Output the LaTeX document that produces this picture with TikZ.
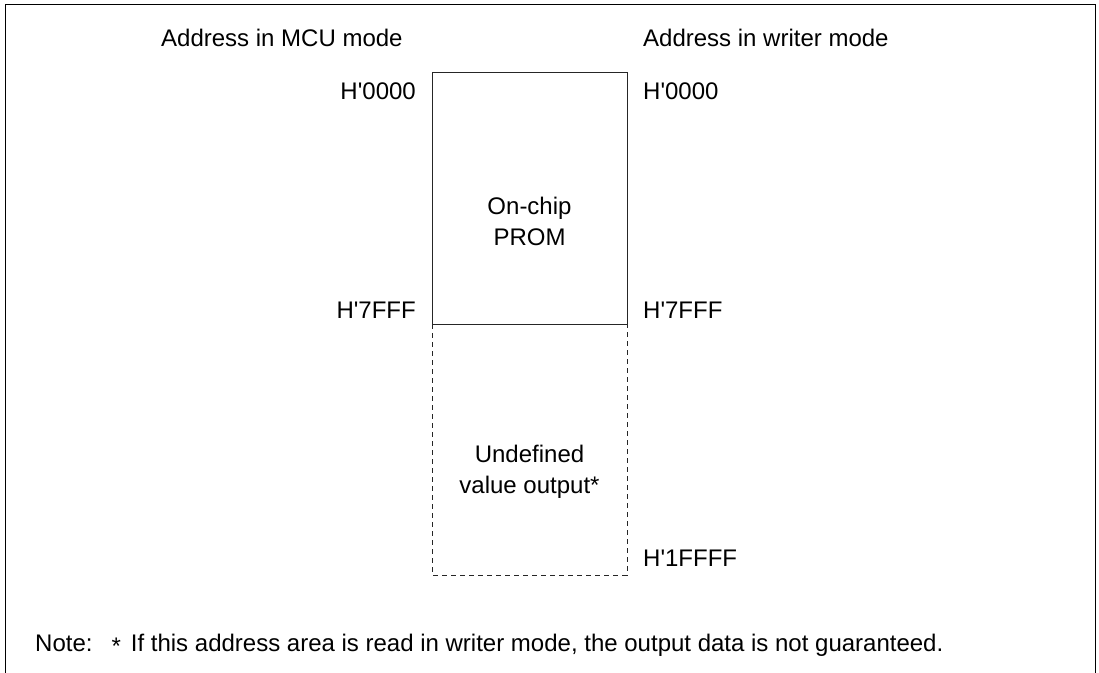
\documentclass[tikz,border=0pt]{standalone}
\usepackage{fontspec}
\setmainfont{Liberation Sans}
\newcommand{\apos}{\XeTeXglyph\XeTeXglyphindex"quotesingle"\relax}
\begin{document}
\begin{tikzpicture}[x=1bp,y=-1bp,
  lbl/.style={inner sep=0pt,font=\fontsize{24bp}{30bp}\selectfont},
  frameline/.style={line width=1bp,black},
  boxline/.style={line width=1bp,black!85},
  dashline/.style={boxline,dash pattern=on 5bp off 4bp}]
\useasboundingbox (0,0) rectangle (1099,673);
\draw[frameline] (5,674) -- (5,5) -- (1095,5) -- (1095,674);
% memory map
\coordinate (tl) at (432,73);
\coordinate (mr) at (627,324);
\coordinate (ml) at (432,324);
\coordinate (bl) at (432,575);
\coordinate (br) at (627,575);
\draw[boxline] (tl) rectangle (mr);
\draw[dashline] (ml) -- (bl) -- (br) -- (mr);
% headers
\node[lbl,anchor=base west] (hmcu) at (161,47) {Address in MCU mode};
\node[lbl,anchor=base west] (hwr) at (643,47) {Address in writer mode};
% left addresses
\node[lbl,anchor=base east] (l0) at (416,100) {H\apos0000};
\node[lbl,anchor=base east] (l7) at (416,318) {H\apos7FFF};
% right addresses
\node[lbl,anchor=base west] (r0) at (643,100) {H\apos0000};
\node[lbl,anchor=base west] (r7) at (643,318) {H\apos7FFF};
\node[lbl,anchor=base west] (r1) at (643,566) {H\apos1FFFF};
% area texts
\node[lbl,anchor=base] (on) at (529.5,215) {On-chip};
\node[lbl,anchor=base] (prom) at (529.5,245) {PROM};
\node[lbl,anchor=base] (und) at (529.5,462) {Undefined};
\node[lbl,anchor=base] (val) at (529.5,493) {value output*};
% note
\node[lbl,anchor=base west] (note) at (35,651) {Note:\hspace{19bp}\raisebox{-3.5bp}{*}\hspace{10bp}If this address area is read in writer mode, the output data is not guaranteed.};
\end{tikzpicture}
\end{document}
